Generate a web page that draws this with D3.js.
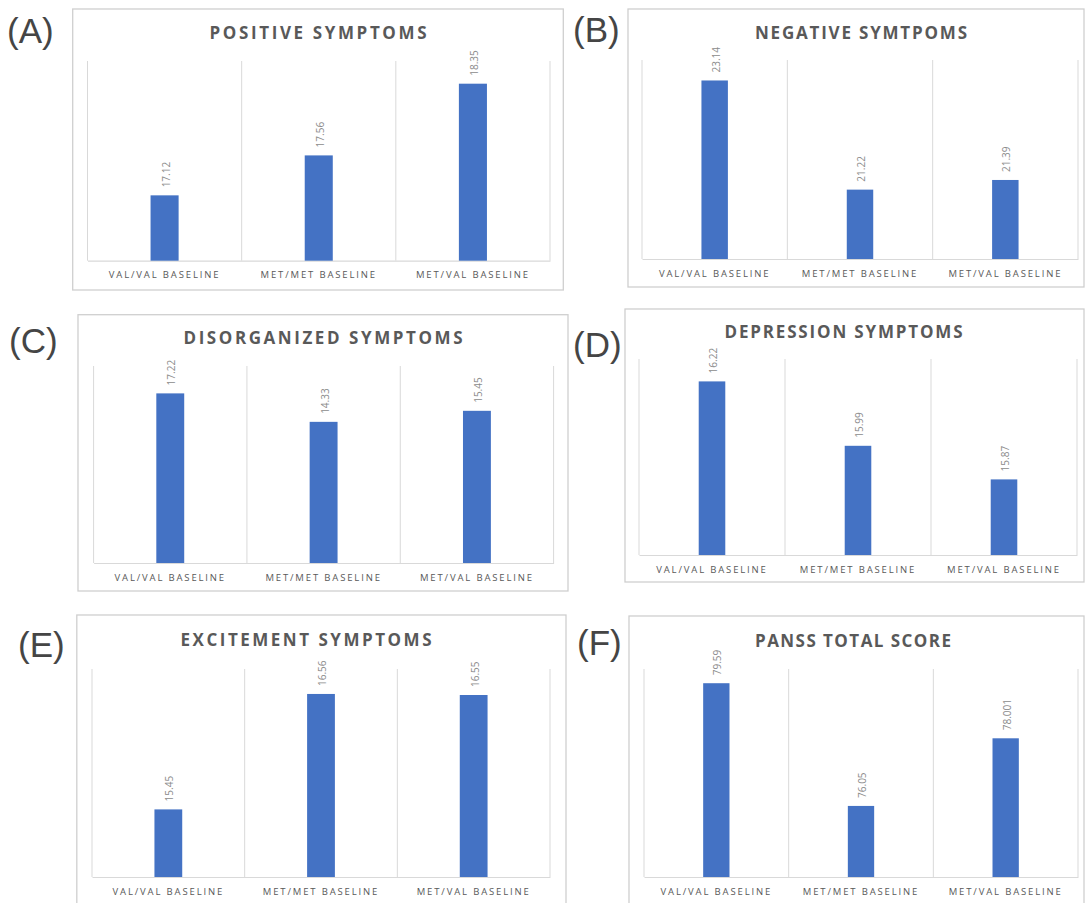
<!DOCTYPE html>
<html>
<head>
<meta charset="utf-8">
<script src="https://cdn.jsdelivr.net/npm/d3@7"></script>
<style>
  html, body { margin: 0; padding: 0; background: #ffffff; }
  svg { display: block; }
</style>
</head>
<body>
<svg id="chart" width="1086" height="903"></svg>
<script>
// ---- data ----
const categories = ["VAL/VAL BASELINE", "MET/MET BASELINE", "MET/VAL BASELINE"];
const panelLabels = ["(A)", "(B)", "(C)", "(D)", "(E)", "(F)"];
const titles = ["POSITIVE  SYMPTOMS", "NEGATIVE  SYMTPOMS", "DISORGANIZED  SYMPTOMS",
                "DEPRESSION  SYMPTOMS", "EXCITEMENT  SYMPTOMS", "PANSS  TOTAL  SCORE"];
const positive     = [17.12, 17.56, 18.35];
const negative     = [23.14, 21.22, 21.39];
const disorganized = [17.22, 14.33, 15.45];
const depression   = [16.22, 15.99, 15.87];
const excitement   = [15.45, 16.56, 16.55];
const panssTotal   = [79.59, 76.05, 78.001];
const valueLabels = [
  ["17.12", "17.56", "18.35"],
  ["23.14", "21.22", "21.39"],
  ["17.22", "14.33", "15.45"],
  ["16.22", "15.99", "15.87"],
  ["15.45", "16.56", "16.55"],
  ["79.59", "76.05", "78.001"]
];
const yMin = [16.4, 20, 0, 15.6, 14.8, 74];
const yMax = [18.6, 23.5, 20, 16.3, 16.8, 80];

const series = [positive, negative, disorganized, depression, excitement, panssTotal];

// ---- layout (positions only) ----
const layout = [
  {box:[72.7, 9, 563.3, 290],  plot:[87.5, 61, 550, 260.7], title:[318, 39, 217], label:[7, 43]},
  {box:[628, 9, 1084, 287],    plot:[642, 60, 1078, 259],   title:[861, 39, 212], label:[573, 42]},
  {box:[78, 314.7, 568, 591],  plot:[93.6, 366, 553.6, 563], title:[323, 344, 279], label:[9, 353]},
  {box:[625, 309, 1084, 582],  plot:[639, 359, 1077, 555],  title:[843.5, 338, 238], label:[573, 357]},
  {box:[76.8, 615, 566, 906],  plot:[92, 669, 550, 877],    title:[306, 646, 251], label:[18, 657]},
  {box:[629, 616, 1084, 906],  plot:[644, 669, 1078, 877],  title:[853, 647, 196], label:[577, 655]}
];

const svg = d3.select("#chart");

series.forEach((vals, i) => {
  const L = layout[i];
  const g = svg.append("g");

  // chart box
  g.append("rect")
    .attr("x", L.box[0]).attr("y", L.box[1])
    .attr("width", L.box[2] - L.box[0]).attr("height", L.box[3] - L.box[1])
    .attr("fill", "#ffffff").attr("stroke", "#cfcfcf").attr("stroke-width", 1.3);

  // panel label
  g.append("text")
    .attr("x", L.label[0]).attr("y", L.label[1])
    .attr("font-family", "'Liberation Sans', Arial, sans-serif")
    .attr("font-size", 35).attr("fill", "#454545")
    .text(panelLabels[i]);

  // title
  g.append("text")
    .attr("x", L.title[0]).attr("y", L.title[1])
    .attr("text-anchor", "middle")
    .attr("font-family", "'Open Sans', sans-serif")
    .attr("font-weight", "bold").attr("font-size", 17)
    .attr("fill", "#595959")
    .attr("textLength", L.title[2]).attr("lengthAdjust", "spacing")
    .text(titles[i]);

  const x = d3.scaleBand().domain(categories).range([L.plot[0], L.plot[2]]).padding(0);
  const y = d3.scaleLinear().domain([yMin[i], yMax[i]]).range([L.plot[3], L.plot[1]]);

  // vertical gridlines at category boundaries
  const bounds = categories.map(c => x(c)).concat([x(categories[2]) + x.bandwidth()]);
  g.selectAll(".grid").data(bounds).enter().append("line")
    .attr("x1", d => d).attr("x2", d => d)
    .attr("y1", y(yMax[i])).attr("y2", y(yMin[i]))
    .attr("stroke", "#d9d9d9").attr("stroke-width", 1);

  // category axis
  const axis = d3.axisBottom(x).tickSize(0).tickPadding(11);
  const ax = g.append("g").attr("transform", `translate(0,${y(yMin[i])})`).call(axis);
  ax.select(".domain").attr("stroke", "#d9d9d9").attr("stroke-width", 1.2);
  ax.selectAll("text")
    .attr("font-family", "'Open Sans', sans-serif")
    .attr("font-size", 9.5).attr("fill", "#595959")
    .attr("letter-spacing", "1.85px");

  // bars
  const bw = x.bandwidth() * 0.182;
  g.selectAll(".bar").data(vals).enter().append("rect")
    .attr("x", (d, j) => x(categories[j]) + x.bandwidth() / 2 - bw / 2)
    .attr("y", d => y(d))
    .attr("width", bw)
    .attr("height", d => y(yMin[i]) - y(d))
    .attr("fill", "#4472c4");

  // value labels (rotated)
  g.selectAll(".val").data(vals).enter().append("text")
    .attr("transform", (d, j) => `translate(${x(categories[j]) + x.bandwidth() / 2 + 1},${y(d) - 8}) rotate(-90)`)
    .attr("text-anchor", "start")
    .attr("dominant-baseline", "central")
    .attr("font-family", "'Open Sans', sans-serif")
    .attr("font-size", 10).attr("fill", "#8c8c8c")
    .text((d, j) => valueLabels[i][j]);
});
</script>
</body>
</html>
